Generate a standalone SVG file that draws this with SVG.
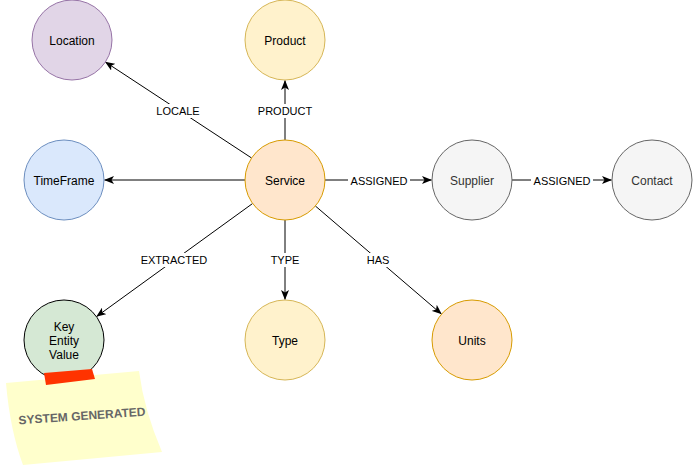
<svg xmlns="http://www.w3.org/2000/svg" width="693" height="468" viewBox="0 0 693 468">
<style>
.n{stroke-width:1}
.t{font-family:"Liberation Sans",Arial,sans-serif;font-size:12px;fill:#000;text-anchor:middle;dominant-baseline:central}
.g{fill:#333333}
.e{stroke:#000;stroke-width:1;fill:none;marker-end:url(#arr)}
.l{font-family:"Liberation Sans",Arial,sans-serif;font-size:11px;fill:#000;text-anchor:middle;dominant-baseline:central}
.lb{fill:#fff}
</style>
<defs>
<marker id="arr" markerWidth="10" markerHeight="8" refX="9.5" refY="4" orient="auto" markerUnits="userSpaceOnUse">
<path d="M0,0 L10,4 L0,8 L2.5,4 Z" fill="#000"/>
</marker>
</defs>
<rect width="693" height="468" fill="#fff"/>
<g id="connectors">
<line class="e" x1="251.6" y1="158" x2="105.4" y2="62"/>
<line class="e" x1="285" y1="140" x2="285" y2="80.5"/>
<line class="e" x1="245" y1="180" x2="104.5" y2="180"/>
<line class="e" x1="325" y1="180" x2="431.5" y2="180"/>
<line class="e" x1="512" y1="180" x2="611.5" y2="180"/>
<line class="e" x1="252.6" y1="203.5" x2="96.6" y2="316.5"/>
<line class="e" x1="285" y1="220" x2="285" y2="299.5"/>
<line class="e" x1="315.4" y1="206" x2="441.4" y2="314"/>
<rect class="lb" x="155" y="104" width="46" height="14"/>
<text class="l" x="178" y="111">LOCALE</text>
<rect class="lb" x="257" y="104" width="56" height="14"/>
<text class="l" x="285" y="111">PRODUCT</text>
<rect class="lb" x="348" y="174" width="62" height="14"/>
<text class="l" x="379" y="181">ASSIGNED</text>
<rect class="lb" x="531" y="174" width="62" height="14"/>
<text class="l" x="562" y="181">ASSIGNED</text>
<rect class="lb" x="140" y="253" width="68" height="14"/>
<text class="l" x="174" y="260">EXTRACTED</text>
<rect class="lb" x="269" y="253" width="32" height="14"/>
<text class="l" x="285" y="260">TYPE</text>
<rect class="lb" x="364" y="253" width="28" height="14"/>
<text class="l" x="378" y="260">HAS</text>
</g>
<g id="location"><circle class="n" cx="72" cy="40" r="40" fill="#e1d5e7" stroke="#9673a6"/><text class="t" x="72" y="41">Location</text></g>
<g id="product"><circle class="n" cx="285" cy="40" r="40" fill="#fff2cc" stroke="#d6b656"/><text class="t" x="285" y="41">Product</text></g>
<g id="timeframe"><circle class="n" cx="64" cy="180" r="40" fill="#dae8fc" stroke="#6c8ebf"/><text class="t" x="64" y="181">TimeFrame</text></g>
<g id="service"><circle class="n" cx="285" cy="180" r="40" fill="#ffe6cc" stroke="#d79b00"/><text class="t" x="285" y="181">Service</text></g>
<g id="supplier"><circle class="n" cx="472" cy="180" r="40" fill="#f5f5f5" stroke="#666666"/><text class="t g" x="472" y="181">Supplier</text></g>
<g id="contact"><circle class="n" cx="652" cy="180" r="40" fill="#f5f5f5" stroke="#666666"/><text class="t g" x="652" y="181">Contact</text></g>
<g id="type"><circle class="n" cx="285" cy="340" r="40" fill="#fff2cc" stroke="#d6b656"/><text class="t" x="285" y="341">Type</text></g>
<g id="units"><circle class="n" cx="472" cy="340" r="40" fill="#ffe6cc" stroke="#d79b00"/><text class="t" x="472" y="341">Units</text></g>
<g id="kev"><circle class="n" cx="64" cy="340" r="40" fill="#d5e8d4" stroke="#000000"/>
<text class="t" x="64" y="327">Key</text><text class="t" x="64" y="341">Entity</text><text class="t" x="64" y="355">Value</text></g>
<g id="note">
<path d="M6,383 L139,371 Q144,410 162,452 L23,465 Q10,430 6,383 Z" fill="#ffffcc"/>
<path d="M44,373 L92,369 L95,379 L46,385 Z" fill="#ff3300"/>
<text x="82" y="416" transform="rotate(-4 82 416)" font-family="'Liberation Sans',Arial,sans-serif" font-size="12" font-weight="bold" fill="#666666" text-anchor="middle" dominant-baseline="central">SYSTEM GENERATED</text>
</g>
</svg>
